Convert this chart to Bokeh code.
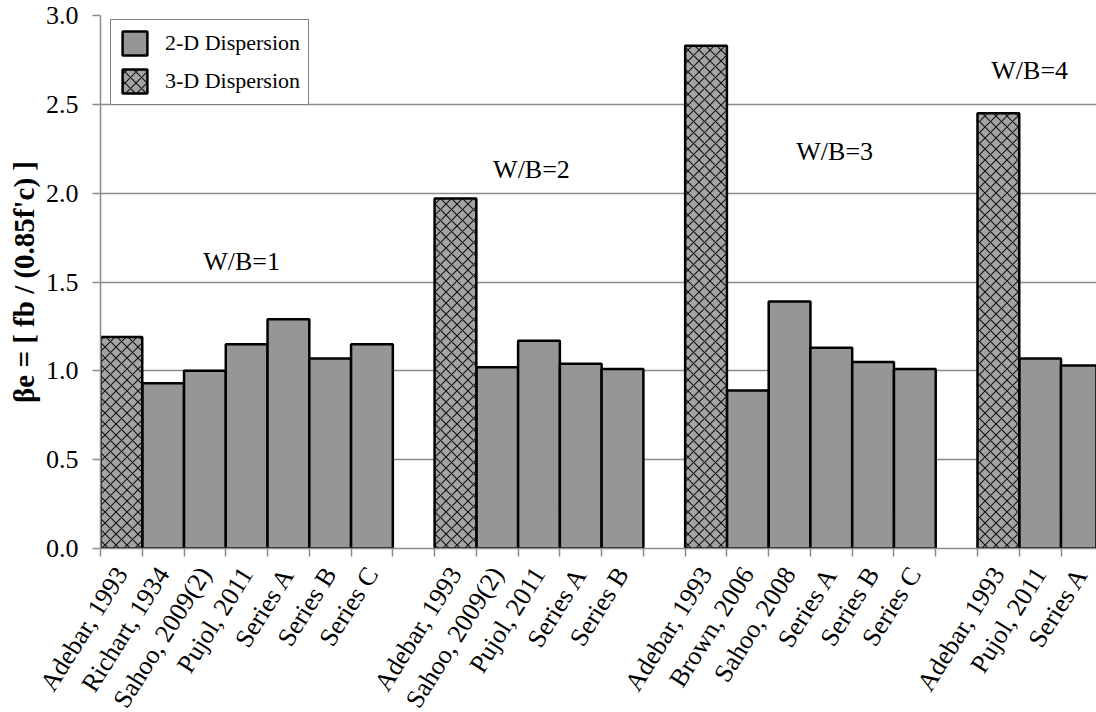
from bokeh.plotting import figure
from bokeh.models import (Range1d, FixedTicker, Legend, LegendItem, ColumnDataSource,
                          NumeralTickFormatter)
from bokeh.core.properties import value
from bokeh.embed import file_html
from bokeh.resources import INLINE

# ---------------- data ----------------
group_labels = ["W/B=1", "W/B=2", "W/B=3", "W/B=4"]
group1_names = ["Adebar, 1993", "Richart, 1934", "Sahoo, 2009(2)", "Pujol, 2011",
                "Series A", "Series B", "Series C"]
group1_values = [1.19, 0.93, 1.00, 1.15, 1.29, 1.07, 1.15]
group1_kind = ["3-D", "2-D", "2-D", "2-D", "2-D", "2-D", "2-D"]

group2_names = ["Adebar, 1993", "Sahoo, 2009(2)", "Pujol, 2011", "Series A", "Series B"]
group2_values = [1.97, 1.02, 1.17, 1.04, 1.01]
group2_kind = ["3-D", "2-D", "2-D", "2-D", "2-D"]

group3_names = ["Adebar, 1993", "Brown, 2006", "Sahoo, 2008", "Series A", "Series B", "Series C"]
group3_values = [2.83, 0.89, 1.39, 1.13, 1.05, 1.01]
group3_kind = ["3-D", "2-D", "2-D", "2-D", "2-D", "2-D"]

group4_names = ["Adebar, 1993", "Pujol, 2011", "Series A"]
group4_values = [2.45, 1.07, 1.03]
group4_kind = ["3-D", "2-D", "2-D"]

y_ticks = [0.0, 0.5, 1.0, 1.5, 2.0, 2.5, 3.0]

# annotation anchors for the W/B labels (x in slot units, y in data units, text centre)
label_x = [3.38, 10.32, 17.58, 22.25]
label_y = [1.615, 2.136, 2.234, 2.693]

# ---------------- build positions ----------------
groups = [(group1_names, group1_values, group1_kind),
          (group2_names, group2_values, group2_kind),
          (group3_names, group3_values, group3_kind),
          (group4_names, group4_values, group4_kind)]

xs2, ys2, xs3, ys3 = [], [], [], []
centers, overrides = [], {}
slot = 0
for names, vals, kinds in groups:
    for n, v, k in zip(names, vals, kinds):
        c = slot + 0.5
        centers.append(c)
        overrides[c] = n
        if k == "3-D":
            xs3.append(c); ys3.append(v)
        else:
            xs2.append(c); ys2.append(v)
        slot += 1
    slot += 1  # empty slot between groups
boundaries = list(range(0, slot))

FONT = "Liberation Serif"
GRID = "#8c8c8c"

p = figure(width=1096, height=724, output_backend="svg", toolbar_location=None,
           x_range=Range1d(0, 23.85), y_range=Range1d(0, 3.0),
           min_border_left=100, min_border_right=0, min_border_top=15, min_border_bottom=176)
p.outline_line_color = None
p.background_fill_color = "white"
p.border_fill_color = "white"

src2 = ColumnDataSource(dict(x=xs2, top=ys2))
src3 = ColumnDataSource(dict(x=xs3, top=ys3))
r2 = p.vbar(x="x", top="top", width=1.0, bottom=0, source=src2,
            fill_color="#969696", line_color="black", line_width=2.5)
r3 = p.vbar(x="x", top="top", width=1.0, bottom=0, source=src3,
            fill_color="#a4a4a4", line_color="black", line_width=2.5,
            hatch_pattern="diagonal_cross", hatch_color="#111111",
            hatch_scale=11, hatch_weight=1.1)

# W/B labels
p.text(x=label_x, y=label_y, text=group_labels, text_font=value(FONT),
       text_font_size="26px", text_align="center", text_baseline="middle",
       text_color="black")

# x axis: names at bar centres, ticks at the bar boundaries
xa = p.xaxis[0]
xa.ticker = FixedTicker(ticks=centers, minor_ticks=boundaries)
xa.major_label_overrides = overrides
xa.major_label_orientation = 1.01
xa.major_tick_out = 0
xa.major_tick_in = 0
xa.minor_tick_out = 8
xa.minor_tick_in = 0
xa.minor_tick_line_color = GRID
xa.minor_tick_line_width = 1.5
xa.axis_line_color = GRID
xa.axis_line_width = 1.5
xa.major_label_text_font = FONT
xa.major_label_text_font_size = "26px"
xa.major_label_text_color = "black"
xa.major_label_standoff = 13

# y axis
ya = p.yaxis[0]
ya.ticker = FixedTicker(ticks=y_ticks)
ya.formatter = NumeralTickFormatter(format="0.0")
ya.major_tick_out = 8
ya.major_tick_in = 0
ya.minor_tick_line_color = None
ya.major_tick_line_color = GRID
ya.major_tick_line_width = 1.5
ya.axis_line_color = GRID
ya.axis_line_width = 1.5
ya.major_label_text_font = FONT
ya.major_label_text_font_size = "26px"
ya.major_label_text_color = "black"
ya.major_label_standoff = 14
ya.axis_label = "βe = [ fb / (0.85f'c) ]"
ya.axis_label_text_font = FONT
ya.axis_label_text_font_size = "29px"
ya.axis_label_text_font_style = "bold"
ya.axis_label_text_color = "black"
ya.axis_label_standoff = 3
p.xgrid.visible = False
p.ygrid.ticker = FixedTicker(ticks=y_ticks)
p.ygrid.grid_line_color = GRID
p.ygrid.grid_line_width = 1.5

legend = Legend(items=[LegendItem(label="2-D Dispersion", renderers=[r2]),
                       LegendItem(label="3-D Dispersion", renderers=[r3])],
                location=(10, 443), margin=0, padding=8, spacing=8,
                glyph_width=31, glyph_height=30, label_standoff=15,
                label_text_font=FONT, label_text_font_size="22px",
                label_text_color="black", label_height=30,
                border_line_color="black", border_line_width=1.5,
                background_fill_color="white", background_fill_alpha=1.0)
p.add_layout(legend)

# the reference picture is cropped at the window edge: hide the page overflow
page_template = "{% block postamble %}<style>html, body { overflow: hidden; }</style>{% endblock %}"

open("out.html", "w").write(file_html(p, INLINE, template=page_template))
